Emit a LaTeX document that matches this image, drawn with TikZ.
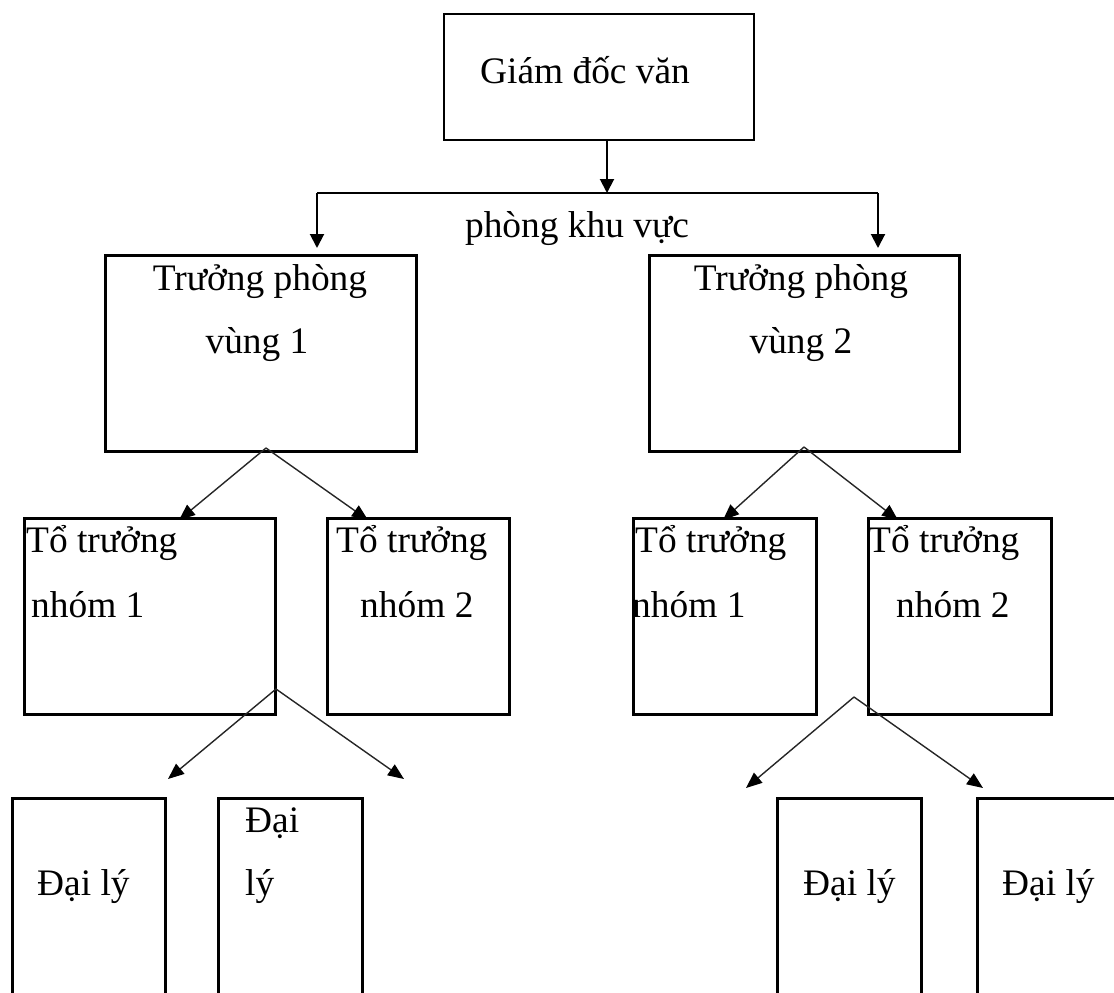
\documentclass[tikz,border=0pt]{standalone}
\usepackage{fontspec}
\setmainfont{Liberation Serif}
\usetikzlibrary{arrows.meta}
\begin{document}
\begin{tikzpicture}[x=1pt,y=-1pt,
 box/.style={draw, line width=3pt, anchor=north west, inner sep=0pt},
 txt/.style={inner sep=0pt, font=\fontsize{37.4}{44}\selectfont},
 conn/.style={line width=2pt, -{Triangle[length=14pt,width=14pt]}},
 diag/.style={line width=1.4pt, draw=black!85, -{Triangle[length=16pt,width=13pt,fill=black,color=black]}}]
\useasboundingbox (0,0) rectangle (1114,993);
\clip (0,0) rectangle (1114,993);
% boxes
\node[box, line width=2pt, minimum width=310pt, minimum height=126pt] (top) at (443,13) {};
\node[box, minimum width=311pt, minimum height=196pt] (tp1) at (104,254) {};
\node[box, minimum width=310pt, minimum height=196pt] (tp2) at (648,254) {};
\node[box, minimum width=251pt, minimum height=196pt] (tt1) at (23,517) {};
\node[box, minimum width=182pt, minimum height=196pt] (tt2) at (326,517) {};
\node[box, minimum width=183pt, minimum height=196pt] (tt3) at (632,517) {};
\node[box, minimum width=183pt, minimum height=196pt] (tt4) at (867,517) {};
\node[box, minimum width=153pt, minimum height=230pt] (dl1) at (11,797) {};
\node[box, minimum width=144pt, minimum height=230pt] (dl2) at (217,797) {};
\node[box, minimum width=144pt, minimum height=230pt] (dl3) at (776,797) {};
\node[box, minimum width=160pt, minimum height=230pt] (dl4) at (976,797) {};
% texts
\node[txt, anchor=base] (ttop) at (585,83) {Giám đốc văn};
\node[txt, anchor=base] (tkv) at (577,237) {phòng khu vực};
\node[txt, anchor=base] (ttp1a) at (260,290) {Trưởng phòng};
\node[txt, anchor=base] (ttp1b) at (257,353) {vùng 1};
\node[txt, anchor=base] (ttp2a) at (801,290) {Trưởng phòng};
\node[txt, anchor=base] (ttp2b) at (801,353) {vùng 2};
\node[txt, anchor=base west] (ttt1a) at (26,552) {Tổ trưởng};
\node[txt, anchor=base west] (ttt1b) at (31,617) {nhóm 1};
\node[txt, anchor=base west] (ttt2a) at (336,552) {Tổ trưởng};
\node[txt, anchor=base west] (ttt2b) at (360,617) {nhóm 2};
\node[txt, anchor=base west] (ttt3a) at (635,552) {Tổ trưởng};
\node[txt, anchor=base west] (ttt3b) at (632,617) {nhóm 1};
\node[txt, anchor=base west] (ttt4a) at (868,552) {Tổ trưởng};
\node[txt, anchor=base west] (ttt4b) at (896,617) {nhóm 2};
\node[txt, anchor=base west] (tdl1) at (37,895) {Đại lý};
\node[txt, anchor=base west] (tdl2a) at (245,832) {Đại};
\node[txt, anchor=base west] (tdl2b) at (245,895) {lý};
\node[txt, anchor=base west] (tdl3) at (803,895) {Đại lý};
\node[txt, anchor=base west] (tdl4) at (1002,895) {Đại lý};
% connector coordinates
\coordinate (j) at (607,193);
\coordinate (jl) at (317,193);
\coordinate (jr) at (878,193);
\coordinate (el) at (317,248);
\coordinate (er) at (878,248);
\coordinate (p1) at (266,448);
\coordinate (p1l) at (179,520);
\coordinate (p1r) at (368,520);
\coordinate (p2) at (804,447);
\coordinate (p2l) at (723,520);
\coordinate (p2r) at (898,520);
\coordinate (q1) at (276,689);
\coordinate (q1l) at (168,779);
\coordinate (q1r) at (404,779);
\coordinate (q2) at (854,697);
\coordinate (q2l) at (746,788);
\coordinate (q2r) at (983,788);
% connectors
\draw[conn] (top.south -| j) -- (j);
\draw[line width=2pt] (jl) -- (jr);
\draw[conn] (jl) -- (el);
\draw[conn] (jr) -- (er);
\draw[diag] (p1) -- (p1l);
\draw[diag] (p1) -- (p1r);
\draw[diag] (p2) -- (p2l);
\draw[diag] (p2) -- (p2r);
\draw[diag] (q1) -- (q1l);
\draw[diag] (q1) -- (q1r);
\draw[diag] (q2) -- (q2l);
\draw[diag] (q2) -- (q2r);
\end{tikzpicture}
\end{document}
